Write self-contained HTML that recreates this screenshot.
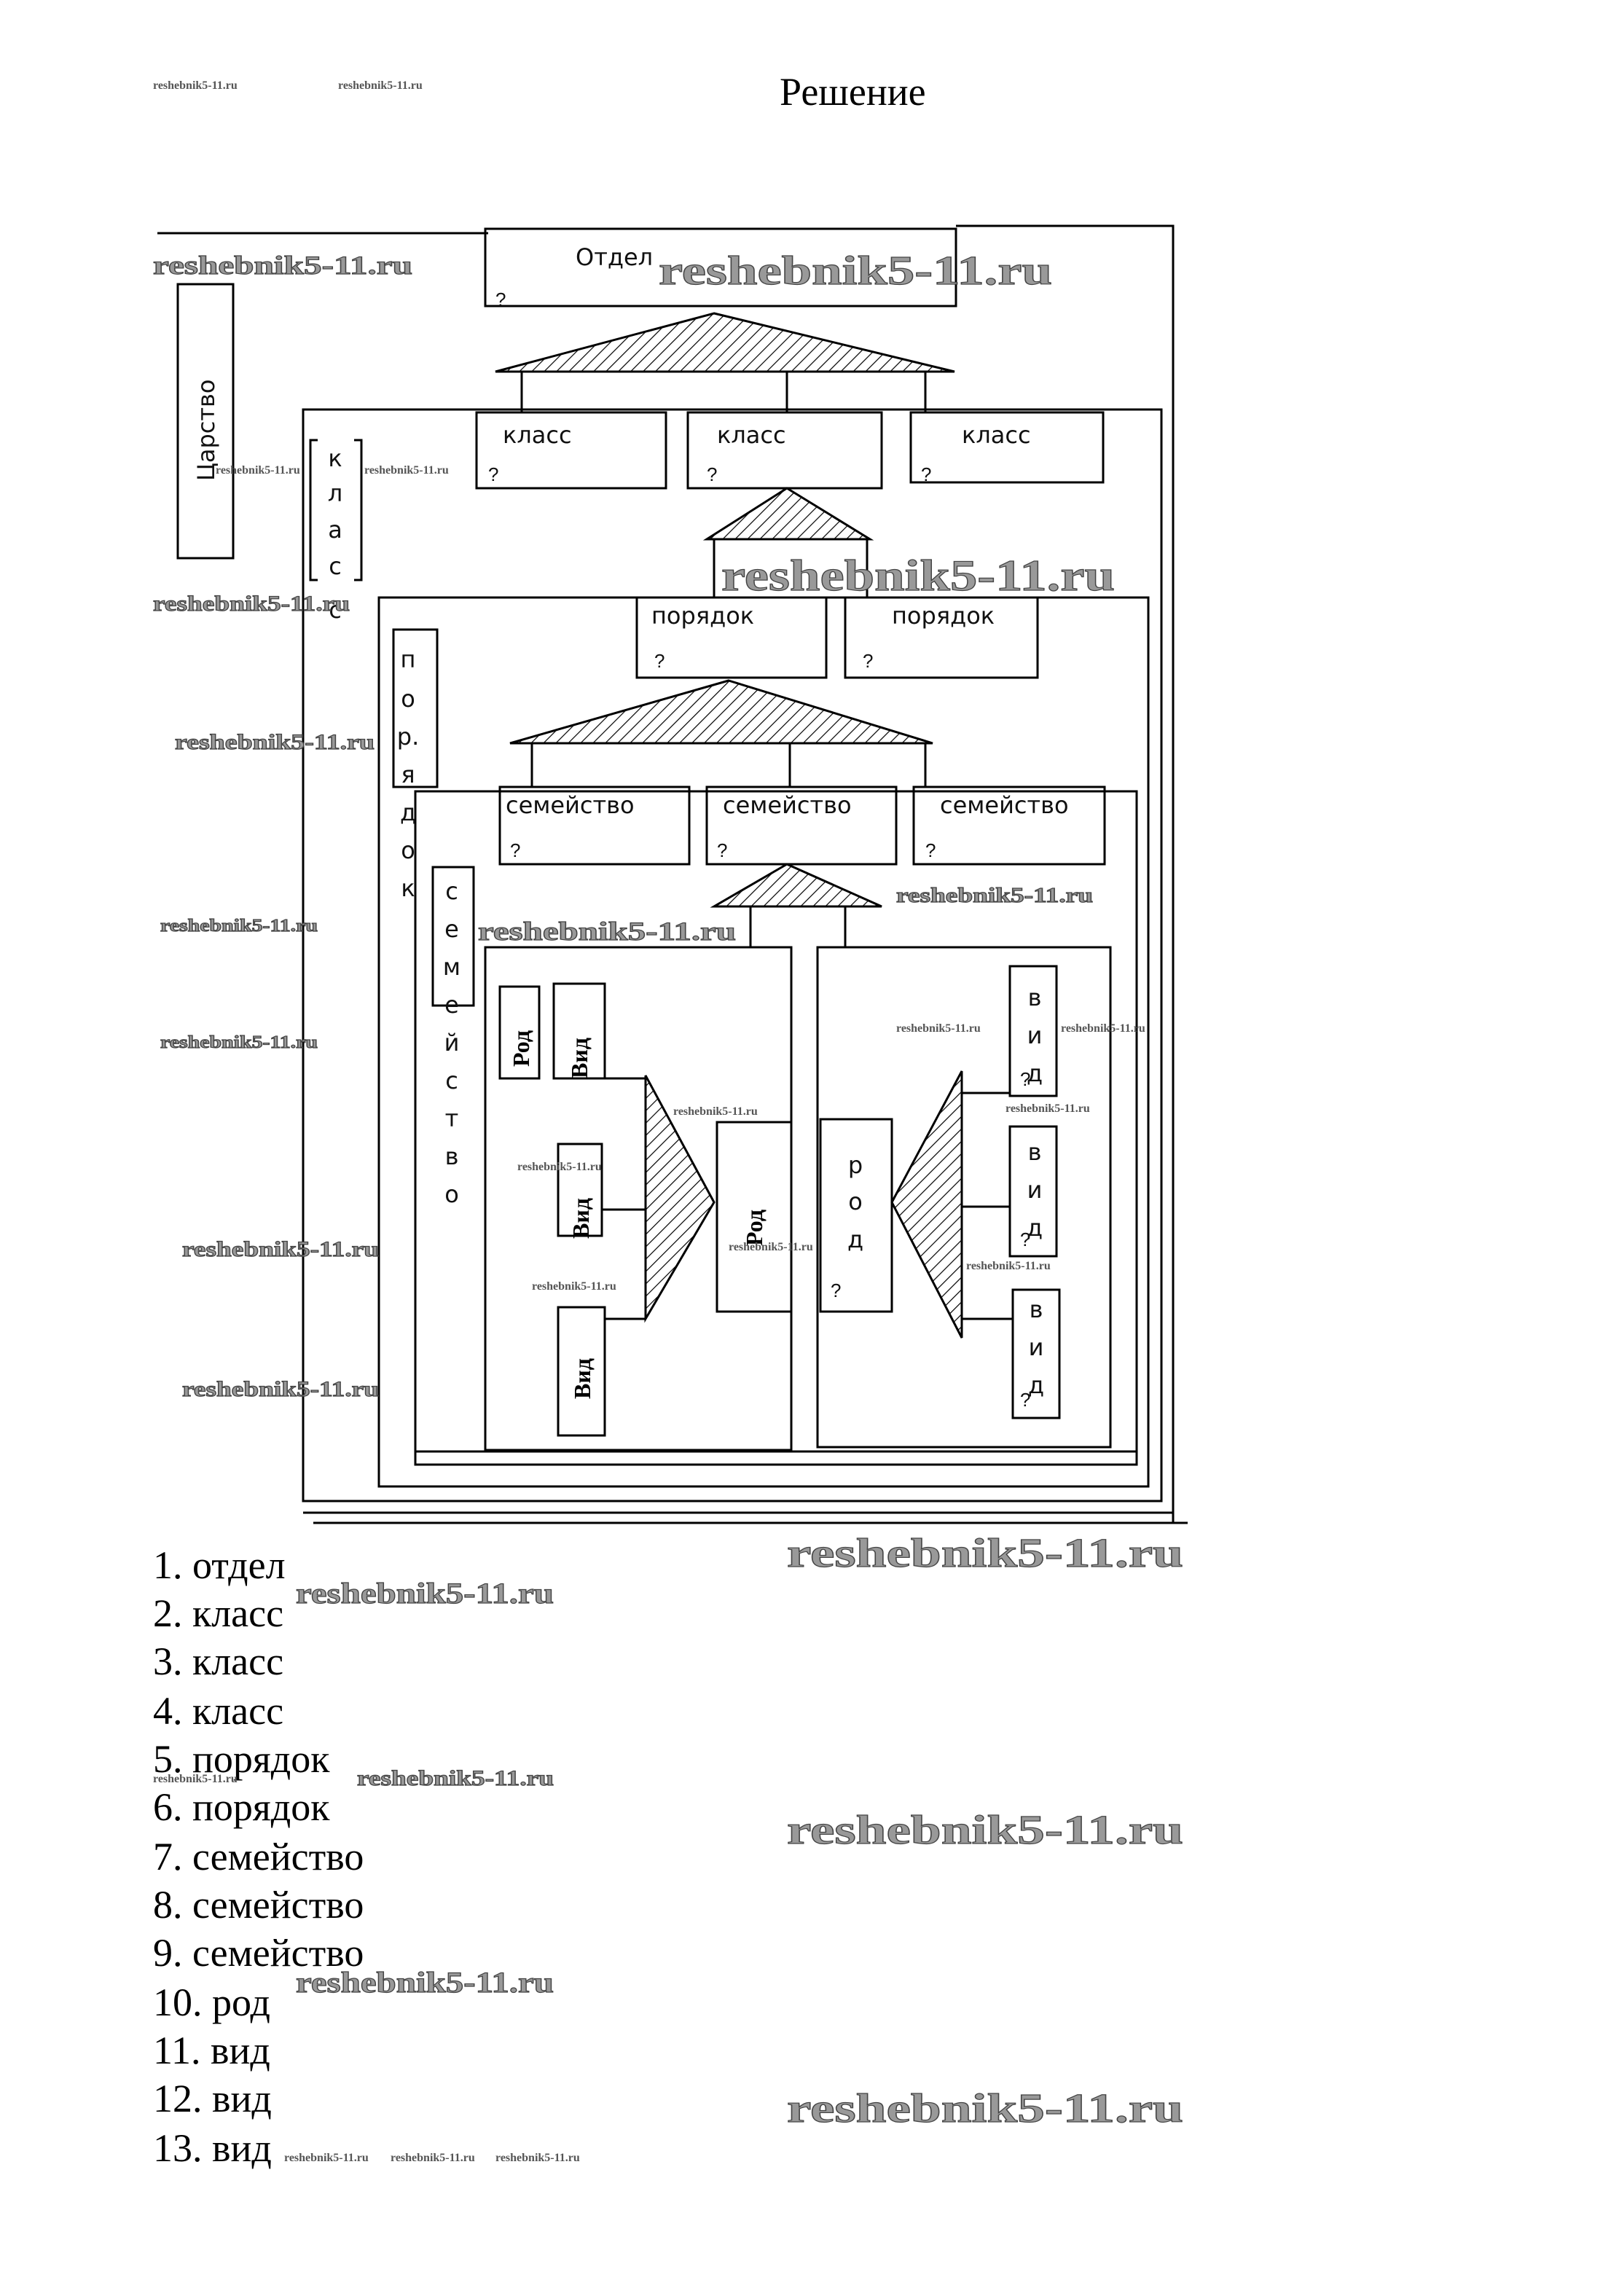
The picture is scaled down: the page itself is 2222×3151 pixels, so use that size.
<!DOCTYPE html>
<html><head><meta charset="utf-8"><style>
html,body{margin:0;padding:0;background:#fff;}
svg{display:block;}
.t{font-family:"DejaVu Sans","Liberation Sans",sans-serif;font-size:16px;fill:#111;}
.s{font-family:"Liberation Serif",serif;fill:#000;}
.w{font-family:"Liberation Serif",serif;font-weight:bold;fill:#999;stroke:#444;stroke-width:0.6;}
.ws{font-family:"Liberation Serif",serif;font-weight:bold;fill:#555;font-size:8px;}
.q{font-family:"Liberation Sans",sans-serif;font-size:13px;fill:#111;}
</style></head><body>
<svg width="2222" height="3151" viewBox="0 0 1111 1575.5" xmlns="http://www.w3.org/2000/svg">
<defs>
<pattern id="h" width="6" height="6" patternUnits="userSpaceOnUse" patternTransform="rotate(45)">
<rect width="6" height="6" fill="#fff"/><line x1="0" y1="0" x2="0" y2="6" stroke="#000" stroke-width="1.2"/>
</pattern>
</defs>
<rect width="1111" height="1575.5" fill="#fff"/>
<text class="s" x="535" y="72" font-size="27">Решение</text>
<text class="ws" x="105" y="61">reshebnik5-11.ru</text>
<text class="ws" x="232" y="61" font-size="6">reshebnik5-11.ru</text>

<g fill="none" stroke="#000" stroke-width="1.5">
<path d="M108 160 H335 M656 155 H805 V1045 M215 1045 H815"/>
<rect x="333" y="157" width="323" height="53"/>
<rect x="122" y="195" width="38" height="188"/>
<rect x="208" y="281" width="589" height="749"/>
<path d="M208 1038 H805"/>
<rect x="260" y="410" width="528" height="610"/>
<rect x="285" y="543" width="495" height="462"/>
<path d="M285 996 H780"/>
<rect x="333" y="650" width="210" height="345"/>
<rect x="561" y="650" width="201" height="343"/>
<path d="M218 302 H213 V398 H218 M243 302 H248 V398 H243"/>
<rect x="270" y="432" width="30" height="108"/>
<rect x="297" y="595" width="28" height="95"/>
<rect x="327" y="283" width="130" height="52"/>
<rect x="472" y="283" width="133" height="52"/>
<rect x="625" y="283" width="132" height="48"/>
<rect x="437" y="410" width="130" height="55"/>
<rect x="580" y="410" width="132" height="55"/>
<rect x="343" y="540" width="130" height="53"/>
<rect x="485" y="540" width="130" height="53"/>
<rect x="627" y="540" width="131" height="53"/>
<rect x="343" y="677" width="27" height="63"/>
<rect x="380" y="675" width="35" height="65"/>
<rect x="383" y="785" width="30" height="63"/>
<rect x="383" y="897" width="32" height="88"/>
<rect x="492" y="770" width="51" height="130"/>
<rect x="563" y="768" width="49" height="132"/>
<rect x="693" y="663" width="32" height="89"/>
<rect x="693" y="773" width="32" height="89"/>
<rect x="695" y="885" width="32" height="88"/>
<path d="M358 255 V283 M540 255 V283 M635 255 V283"/>
<path d="M490 370 V410 M595 370 V410"/>
<path d="M365 510 V540 M542 510 V540 M635 510 V540"/>
<path d="M515 622 V650 M580 622 V650"/>
<path d="M415 740 H443 M413 830 H443 M415 905 H443"/>
<path d="M660 750 H693 M660 828 H693 M660 905 H695"/>
</g>
<g stroke="#000" stroke-width="1.5" fill="url(#h)">
<polygon points="490,215 655,255 340,255"/>
<polygon points="540,335 597,370 485,370"/>
<polygon points="500,467 640,510 350,510"/>
<polygon points="540,593 605,622 490,622"/>
<polygon points="443,738 490,825 443,905"/>
<polygon points="660,735 612,825 660,918"/>
</g>

<text class="t" x="395" y="182">Отдел</text>
<text class="t" x="345" y="304">класс</text>
<text class="t" x="492" y="304">класс</text>
<text class="t" x="660" y="304">класс</text>
<text class="t" x="447" y="428">порядок</text>
<text class="t" x="612" y="428">порядок</text>
<text class="t" x="347" y="558">семейство</text>
<text class="t" x="496" y="558">семейство</text>
<text class="t" x="645" y="558">семейство</text>
<g class="q">
<text x="340" y="210">?</text><text x="335" y="330">?</text><text x="485" y="330">?</text><text x="632" y="330">?</text>
<text x="449" y="458">?</text><text x="592" y="458">?</text><text x="350" y="588">?</text><text x="492" y="588">?</text><text x="635" y="588">?</text>
<text x="570" y="890">?</text><text x="700" y="745">?</text><text x="700" y="855">?</text><text x="700" y="965">?</text>
</g>
<text class="t" font-size="17" transform="translate(147,330) rotate(-90)">Царство</text>
<g class="t" font-size="15" text-anchor="middle">
<text x="230" y="320">к</text><text x="230" y="344">л</text><text x="230" y="369">а</text><text x="230" y="394">с</text><text x="230" y="424">с</text>
<text x="280" y="458">п</text><text x="280" y="485">о</text><text x="280" y="511">р.</text><text x="280" y="537">я</text><text x="280" y="563">д</text><text x="280" y="589">о</text><text x="280" y="615">к</text>
<text x="310" y="617">с</text><text x="310" y="643">е</text><text x="310" y="669">м</text><text x="310" y="695">е</text><text x="310" y="721">й</text><text x="310" y="747">с</text><text x="310" y="773">т</text><text x="310" y="799">в</text><text x="310" y="825">о</text>
<text x="587" y="805">р</text><text x="587" y="830">о</text><text x="587" y="856">д</text>
<text x="710" y="690">в</text><text x="710" y="716">и</text><text x="710" y="742">д</text>
<text x="710" y="796">в</text><text x="710" y="822">и</text><text x="710" y="848">д</text>
<text x="711" y="904">в</text><text x="711" y="930">и</text><text x="711" y="956">д</text>
</g>
<g class="s" font-size="16" font-weight="bold">
<text transform="translate(363,732) rotate(-90)">Род</text>
<text transform="translate(403,740) rotate(-90)">Вид</text>
<text transform="translate(404,850) rotate(-90)">Вид</text>
<text transform="translate(405,960) rotate(-90)">Вид</text>
<text transform="translate(523,855) rotate(-90)">Род</text>
</g>

<g class="s" font-size="27">
<text x="105" y="1083">1. отдел</text>
<text x="105" y="1116">2. класс</text>
<text x="105" y="1149">3. класс</text>
<text x="105" y="1183">4. класс</text>
<text x="105" y="1216">5. порядок</text>
<text x="105" y="1249">6. порядок</text>
<text x="105" y="1283">7. семейство</text>
<text x="105" y="1316">8. семейство</text>
<text x="105" y="1349">9. семейство</text>
<text x="105" y="1383">10. род</text>
<text x="105" y="1416">11. вид</text>
<text x="105" y="1449">12. вид</text>
<text x="105" y="1483">13. вид</text>
</g>

<g class="w" lengthAdjust="spacingAndGlyphs">
<text x="105" y="188" font-size="18" textLength="178" lengthAdjust="spacingAndGlyphs">reshebnik5-11.ru</text>
<text x="452" y="195" font-size="28" textLength="270" lengthAdjust="spacingAndGlyphs">reshebnik5-11.ru</text>
<text x="495" y="405" font-size="30" textLength="270" lengthAdjust="spacingAndGlyphs">reshebnik5-11.ru</text>
<text x="105" y="419" font-size="15" textLength="135" lengthAdjust="spacingAndGlyphs">reshebnik5-11.ru</text>
<text x="120" y="514" font-size="15" textLength="137" lengthAdjust="spacingAndGlyphs">reshebnik5-11.ru</text>
<text x="110" y="639" font-size="12" textLength="108" lengthAdjust="spacingAndGlyphs">reshebnik5-11.ru</text>
<text x="110" y="719" font-size="12" textLength="108" lengthAdjust="spacingAndGlyphs">reshebnik5-11.ru</text>
<text x="125" y="862" font-size="15" textLength="135" lengthAdjust="spacingAndGlyphs">reshebnik5-11.ru</text>
<text x="125" y="958" font-size="15" textLength="135" lengthAdjust="spacingAndGlyphs">reshebnik5-11.ru</text>
<text x="328" y="645" font-size="18" textLength="177" lengthAdjust="spacingAndGlyphs">reshebnik5-11.ru</text>
<text x="615" y="619" font-size="14" textLength="135" lengthAdjust="spacingAndGlyphs">reshebnik5-11.ru</text>
<text x="540" y="1075" font-size="28" textLength="272" lengthAdjust="spacingAndGlyphs">reshebnik5-11.ru</text>
<text x="203" y="1100" font-size="20" textLength="177" lengthAdjust="spacingAndGlyphs">reshebnik5-11.ru</text>
<text x="245" y="1225" font-size="15" textLength="135" lengthAdjust="spacingAndGlyphs">reshebnik5-11.ru</text>
<text x="540" y="1265" font-size="28" textLength="272" lengthAdjust="spacingAndGlyphs">reshebnik5-11.ru</text>
<text x="203" y="1367" font-size="20" textLength="177" lengthAdjust="spacingAndGlyphs">reshebnik5-11.ru</text>
<text x="540" y="1456" font-size="28" textLength="272" lengthAdjust="spacingAndGlyphs">reshebnik5-11.ru</text>
</g>
<g class="ws" font-size="7">
<text x="148" y="325">reshebnik5-11.ru</text><text x="250" y="325">reshebnik5-11.ru</text>
<text x="462" y="765">reshebnik5-11.ru</text><text x="355" y="803">reshebnik5-11.ru</text>
<text x="365" y="885">reshebnik5-11.ru</text><text x="615" y="708">reshebnik5-11.ru</text>
<text x="728" y="708">reshebnik5-11.ru</text><text x="690" y="763">reshebnik5-11.ru</text>
<text x="663" y="871">reshebnik5-11.ru</text><text x="500" y="858">reshebnik5-11.ru</text>
<text x="105" y="1223">reshebnik5-11.ru</text>
<text x="195" y="1483">reshebnik5-11.ru</text><text x="268" y="1483">reshebnik5-11.ru</text><text x="340" y="1483">reshebnik5-11.ru</text>
</g>
</svg>
</body></html>
